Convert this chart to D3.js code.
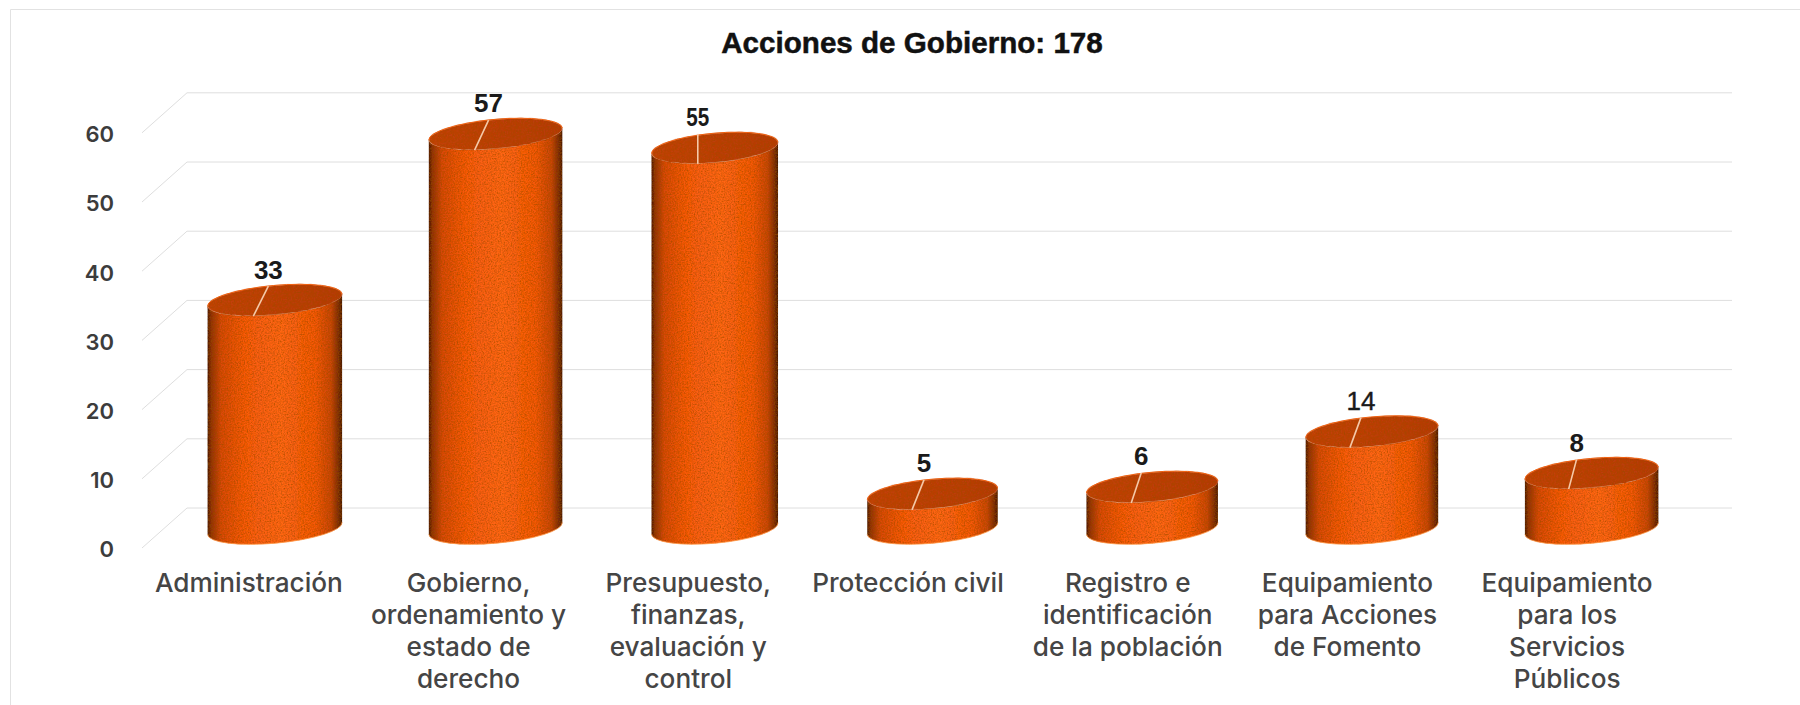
<!DOCTYPE html>
<html lang="es">
<head>
<meta charset="utf-8">
<title>Acciones de Gobierno: 178</title>
<script src="https://cdn.jsdelivr.net/npm/d3@7"></script>
<style>
  html, body { margin: 0; padding: 0; background: #fff; overflow: hidden; }
  svg { display: block; font-family: "Liberation Sans", Arial, sans-serif; }
</style>
</head>
<body>
<div id="chart"></div>
<script>
// ---- data ----
const chartTitle = "Acciones de Gobierno: 178";
const categories = [
  "Administración",
  "Gobierno, ordenamiento y estado de derecho",
  "Presupuesto, finanzas, evaluación y control",
  "Protección civil",
  "Registro e identificación de la población",
  "Equipamiento para Acciones de Fomento",
  "Equipamiento para los Servicios Públicos"
];
const categoryLines = [
  ["Administración"],
  ["Gobierno,", "ordenamiento y", "estado de", "derecho"],
  ["Presupuesto,", "finanzas,", "evaluación y", "control"],
  ["Protección civil"],
  ["Registro e", "identificación", "de la población"],
  ["Equipamiento", "para Acciones", "de Fomento"],
  ["Equipamiento", "para los", "Servicios", "Públicos"]
];
const values = [33, 57, 55, 5, 6, 14, 8];
const yTicks = [0, 10, 20, 30, 40, 50, 60];

// ---- layout ----
const W = 1800, H = 705;
const depthX = 45, depthY = 40;          // offset of the back wall from the front plane
const frontBottom = 548, unit = 6.92;    // px per unit on the front plane
const frontLeft = 142, frontRight = 1687;

const yFront = d3.scaleLinear().domain([0, 60]).range([frontBottom, frontBottom - 60 * unit]);
const yMid = v => yFront(v) - depthY / 2 + 0.5;
const xBand = d3.scaleBand().domain(categories).range([139, 1677]);
const xCenter = c => xBand(c) + xBand.bandwidth() / 2;

const tiltDeg = 5.2, ry = 14.7;
const tilt = tiltDeg * Math.PI / 180;
// small per-bar shape details of the perspective rendering
const barNudge = [1.5, 2.5, 2, 0, 0, 0, 0];
const halfWidths = [67.5, 67, 63.5, 65.5, 66, 66.5, 67];
const leaderTop = [-6.5, -7, -17, -8.5, -11, -11, -15];
const leaderBottom = [-21.5, -21, -17, -20.5, -21, -22, -23];

const svg = d3.select("#chart").append("svg").attr("width", W).attr("height", H).attr("viewBox", `0 0 ${W} ${H}`);
const defs = svg.append("defs");

const grad = defs.append("linearGradient").attr("id", "body").attr("x1", 0).attr("x2", 1).attr("y1", 0).attr("y2", 0);
[[0, "#451703"], [0.025, "#8e3007"], [0.1, "#d8490d"], [0.28, "#f85a11"], [0.55, "#ff6614"],
 [0.8, "#f4580f"], [0.92, "#c8450b"], [0.975, "#772907"], [1, "#451805"]]
  .forEach(([o, c]) => grad.append("stop").attr("offset", o).attr("stop-color", c));

const capGrad = defs.append("linearGradient").attr("id", "cap").attr("x1", 0).attr("x2", 1).attr("y1", 0).attr("y2", 0);
[[0, "#c4420b"], [0.5, "#bf3e08"], [1, "#b83a07"]]
  .forEach(([o, c]) => capGrad.append("stop").attr("offset", o).attr("stop-color", c));

const noise = defs.append("filter").attr("id", "grain")
  .attr("x", "0%").attr("y", "0%").attr("width", "100%").attr("height", "100%");
noise.append("feTurbulence").attr("type", "fractalNoise").attr("baseFrequency", 0.7)
  .attr("numOctaves", 2).attr("seed", 4).attr("result", "n");
noise.append("feColorMatrix").attr("in", "n").attr("type", "matrix")
  .attr("values", "0 0 0 0 0.3  0 0 0 0 0.07  0 0 0 0 0  1.6 0 0 0 -0.62").attr("result", "speck");
noise.append("feComposite").attr("in", "speck").attr("in2", "SourceGraphic").attr("operator", "in").attr("result", "clip");
noise.append("feMerge").selectAll("feMergeNode").data(["SourceGraphic", "clip"]).enter()
  .append("feMergeNode").attr("in", d => d);

// frame (only top and left survive in the scan)
svg.append("path").attr("d", `M10.5,${H} V9.5 H${W}`).attr("fill", "none").attr("stroke", "#e2e2e2").attr("stroke-width", 1);

// title
svg.append("text").attr("x", 912).attr("y", 53).attr("text-anchor", "middle")
  .attr("font-size", 29.6).attr("font-weight", 700).attr("fill", "#111")
  .attr("stroke", "#111").attr("stroke-width", 0.5).text(chartTitle);

// gridlines: floor-side diagonal + back wall
const grid = svg.append("g").attr("fill", "none");
grid.selectAll("path").data(yTicks).enter().append("path")
  .attr("d", v => {
    const y0 = yFront(v);
    return `M${frontLeft},${y0} L${frontLeft + depthX},${y0 - depthY} H${frontRight + depthX}`;
  })
  .attr("stroke", "#dedede").attr("stroke-width", 1);

// y axis labels
const yAxis = d3.axisLeft(yFront).tickValues(yTicks).tickSize(0).tickPadding(0);
const yG = svg.append("g").attr("transform", "translate(114,1)").call(yAxis);
yG.select(".domain").remove();
yG.selectAll("text").attr("font-family", "Inter, 'Liberation Sans', sans-serif")
  .attr("font-size", 22).attr("font-weight", 600).attr("fill", "#3c3c3c")
  .attr("dy", "0.36em");

// cylinders
const data = categories.map((c, i) => ({ c, i, v: values[i], lines: categoryLines[i] }));
const barCx = d => xCenter(d.c) + depthX / 2 + 2 + barNudge[d.i];

const bars = svg.append("g").selectAll("g").data(data).enter().append("g");

bars.append("path")
  .attr("fill", "url(#body)").attr("filter", "url(#grain)")
  .attr("d", d => {
    const a = halfWidths[d.i], cx = barCx(d), dx = a * Math.cos(tilt), dy = a * Math.sin(tilt);
    const yT = yMid(d.v), yB = yMid(0);
    return `M${cx - dx},${yT + dy} V${yB + dy} A${a},${ry} ${-tiltDeg} 0 0 ${cx + dx},${yB - dy}` +
           ` V${yT - dy} A${a},${ry} ${-tiltDeg} 0 1 ${cx - dx},${yT + dy} Z`;
  });

// thin bright rim along the floor edge
bars.append("path").attr("fill", "none").attr("stroke", "#ff9a4a").attr("stroke-width", 1).attr("opacity", 0.8)
  .attr("d", d => {
    const a = halfWidths[d.i], cx = barCx(d), dx = a * Math.cos(tilt), dy = a * Math.sin(tilt), yB = yMid(0);
    return `M${cx - dx},${yB + dy} A${a},${ry} ${-tiltDeg} 0 0 ${cx + dx},${yB - dy}`;
  });

// top face
bars.append("ellipse")
  .attr("cx", d => barCx(d)).attr("cy", d => yMid(d.v))
  .attr("rx", d => halfWidths[d.i]).attr("ry", ry)
  .attr("transform", d => `rotate(${-tiltDeg} ${barCx(d)} ${yMid(d.v)})`)
  .attr("fill", "url(#cap)").attr("filter", "url(#grain)");

// back rim of the top face
bars.append("path").attr("fill", "none").attr("stroke", "#f0600f").attr("stroke-width", 1)
  .attr("d", d => {
    const a = halfWidths[d.i], cx = barCx(d), dx = a * Math.cos(tilt), dy = a * Math.sin(tilt), yT = yMid(d.v);
    return `M${cx - dx},${yT + dy} A${a},${ry} ${-tiltDeg} 0 1 ${cx + dx},${yT - dy}`;
  });

// leader lines
const capHalf = 16;
bars.append("line")
  .attr("x1", d => barCx(d) + leaderTop[d.i]).attr("y1", d => yMid(d.v) - capHalf + 2)
  .attr("x2", d => barCx(d) + leaderBottom[d.i]).attr("y2", d => yMid(d.v) + capHalf)
  .attr("stroke", "#f5c9a8").attr("stroke-width", 1.6);

// value labels
bars.append("text")
  .attr("x", d => barCx(d) + leaderTop[d.i]).attr("y", d => yMid(d.v) - capHalf - 15)
  .attr("dy", "0.36em").attr("text-anchor", "middle")
  .attr("font-size", 26).attr("font-weight", 700).attr("fill", "#1a1a1a")
  .each(function (d) {
    if (d.v === 55) d3.select(this).attr("textLength", 23).attr("lengthAdjust", "spacingAndGlyphs");
    if (d.v === 14) d3.select(this).attr("font-weight", 400).attr("stroke", "#1a1a1a").attr("stroke-width", 0.4);
  })
  .text(d => d.v);

// category labels
const cat = svg.append("g").selectAll("text").data(data).enter().append("text")
  .attr("text-anchor", "middle").attr("font-family", "Inter, 'Liberation Sans', sans-serif")
  .attr("font-size", 26.2).attr("font-weight", 500).attr("fill", "#454545");
cat.selectAll("tspan").data(d => d.lines.map((l, k) => ({ l, k, x: xCenter(d.c) }))).enter().append("tspan")
  .attr("x", d => d.x).attr("y", d => 591.5 + d.k * 32.3).text(d => d.l);
</script>
</body>
</html>
